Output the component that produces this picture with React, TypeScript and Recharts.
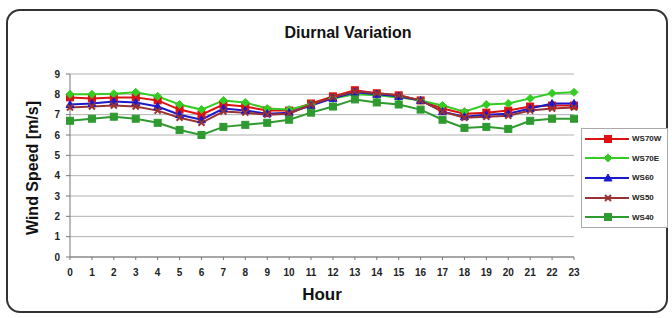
import React from 'react';
import { LineChart, Line, XAxis, YAxis, CartesianGrid, Label } from 'recharts';

const hours = [0, 1, 2, 3, 4, 5, 6, 7, 8, 9, 10, 11, 12, 13, 14, 15, 16, 17, 18, 19, 20, 21, 22, 23];
const yTicks = [0, 1, 2, 3, 4, 5, 6, 7, 8, 9];

const ws70w = [7.85, 7.8, 7.85, 7.85, 7.7, 7.25, 7.0, 7.5, 7.4, 7.2, 7.2, 7.55, 7.9, 8.2, 8.05, 7.95, 7.7, 7.3, 7.05, 7.1, 7.2, 7.4, 7.45, 7.45];
const ws70e = [8.0, 8.0, 8.03, 8.1, 7.9, 7.5, 7.25, 7.7, 7.6, 7.3, 7.25, 7.5, 7.8, 8.0, 7.95, 7.85, 7.7, 7.45, 7.15, 7.5, 7.55, 7.8, 8.05, 8.1];
const ws60 = [7.5, 7.55, 7.65, 7.6, 7.4, 7.0, 6.75, 7.3, 7.2, 7.05, 7.1, 7.45, 7.8, 8.1, 8.0, 7.9, 7.7, 7.15, 6.9, 7.0, 7.05, 7.3, 7.55, 7.55];
const ws50 = [7.35, 7.4, 7.45, 7.4, 7.2, 6.85, 6.6, 7.15, 7.1, 7.0, 7.05, 7.5, 7.85, 8.15, 8.05, 7.95, 7.7, 7.15, 6.85, 6.9, 6.95, 7.2, 7.3, 7.35];
const ws40 = [6.7, 6.8, 6.9, 6.8, 6.6, 6.25, 6.0, 6.4, 6.5, 6.6, 6.75, 7.1, 7.4, 7.75, 7.6, 7.5, 7.25, 6.75, 6.35, 6.4, 6.3, 6.7, 6.8, 6.8];

const series = [
  { key: 'WS70W', color: '#dd1111', shape: 'square', values: ws70w },
  { key: 'WS70E', color: '#33cc22', shape: 'diamond', values: ws70e },
  { key: 'WS60', color: '#1a1acc', shape: 'triangle', values: ws60 },
  { key: 'WS50', color: '#993333', shape: 'x', values: ws50 },
  { key: 'WS40', color: '#2f9a2f', shape: 'square', values: ws40 },
];

const data = hours.map((h, i) => {
  const row: any = { hour: h };
  series.forEach((s) => {
    row[s.key] = s.values[i];
  });
  return row;
});

function Marker({ shape, color, cx, cy }: { shape: string; color: string; cx: number; cy: number }) {
  if (shape === 'square') {
    return <rect x={cx - 3.5} y={cy - 3.5} width={7} height={7} fill={color} stroke={color} />;
  }
  if (shape === 'diamond') {
    return <polygon points={`${cx},${cy - 4} ${cx + 4},${cy} ${cx},${cy + 4} ${cx - 4},${cy}`} fill={color} stroke={color} />;
  }
  if (shape === 'triangle') {
    return <polygon points={`${cx},${cy - 4} ${cx + 4},${cy + 3} ${cx - 4},${cy + 3}`} fill={color} stroke={color} />;
  }
  return (
    <g stroke={color} strokeWidth={2}>
      <line x1={cx - 3} y1={cy - 3} x2={cx + 3} y2={cy + 3} />
      <line x1={cx - 3} y1={cy + 3} x2={cx + 3} y2={cy - 3} />
    </g>
  );
}

const makeDot = (shape: string, color: string) => (props: any) => {
  const { cx, cy, index } = props;
  if (cx == null || cy == null) return <g key={`d-${index}`} />;
  return (
    <g key={`d-${shape}-${index}`}>
      <Marker shape={shape} color={color} cx={cx} cy={cy} />
    </g>
  );
};

function LegendBox() {
  return (
    <div
      style={{
        position: 'absolute',
        left: 581,
        top: 128,
        width: 87,
        height: 100,
        border: '1px solid #aaa',
        background: '#fff',
        boxSizing: 'border-box',
      }}
    >
      {series.map((s) => (
        <div key={s.key} style={{ display: 'flex', alignItems: 'center', height: 19.6 }}>
          <svg width={50} height={12} style={{ display: 'block' }}>
            <line x1={3} x2={47} y1={6} y2={6} stroke={s.color} strokeWidth={2} />
            <Marker shape={s.shape} color={s.color} cx={26} cy={6} />
          </svg>
          <span style={{ fontSize: 8, fontWeight: 'bold', color: '#222' }}>{s.key}</span>
        </div>
      ))}
    </div>
  );
}

export default function App() {
  return (
    <div
      style={{
        position: 'absolute',
        left: 0,
        top: 0,
        width: 672,
        height: 318,
        background: '#fff',
        fontFamily: 'Liberation Sans, Arial, sans-serif',
        overflow: 'hidden',
      }}
    >
      <div
        style={{
          position: 'absolute',
          left: 6,
          top: 9,
          width: 658,
          height: 300,
          border: '2px solid #333',
          borderRadius: 14,
        }}
      />
      <div
        style={{
          position: 'absolute',
          left: 0,
          top: 24,
          width: 696,
          textAlign: 'center',
          fontSize: 16,
          lineHeight: '18px',
          fontWeight: 'bold',
          color: '#111',
        }}
      >
        Diurnal Variation
      </div>
      <div style={{ position: 'absolute', left: 0, top: 0 }}>
        <LineChart width={672} height={318} data={data} margin={{ top: 74, right: 98, bottom: 0, left: 0 }}>
          <CartesianGrid vertical={false} stroke="#b0b0b0" strokeWidth={1} />
          <XAxis
            dataKey="hour"
            type="number"
            domain={[0, 23]}
            ticks={hours}
            interval={0}
            height={61}
            tickSize={3}
            stroke="#777"
            tick={{ fontSize: 10, fontWeight: 'bold', fill: '#222', dy: 7 }}
          >
            <Label value="Hour" position="insideBottom" offset={18} style={{ fontSize: 17, fontWeight: 'bold', fill: '#111' }} />
          </XAxis>
          <YAxis
            type="number"
            domain={[0, 9]}
            ticks={yTicks}
            interval={0}
            width={70}
            tickSize={4}
            stroke="#777"
            tick={{ fontSize: 10, fontWeight: 'bold', fill: '#222', dx: -4 }}
          >
            <Label
              content={() => (
                <text
                  x={32}
                  y={168}
                  transform="rotate(-90 32 168)"
                  textAnchor="middle"
                  dominantBaseline="central"
                  style={{ fontSize: 16, fontWeight: 'bold', fill: '#111' }}
                >
                  Wind Speed [m/s]
                </text>
              )}
            />
          </YAxis>
          {series.map((s) => (
            <Line
              key={s.key}
              dataKey={s.key}
              name={s.key}
              stroke={s.color}
              strokeWidth={2}
              dot={makeDot(s.shape, s.color)}
              activeDot={false}
              isAnimationActive={false}
            />
          ))}
        </LineChart>
      </div>
      <LegendBox />
    </div>
  );
}
